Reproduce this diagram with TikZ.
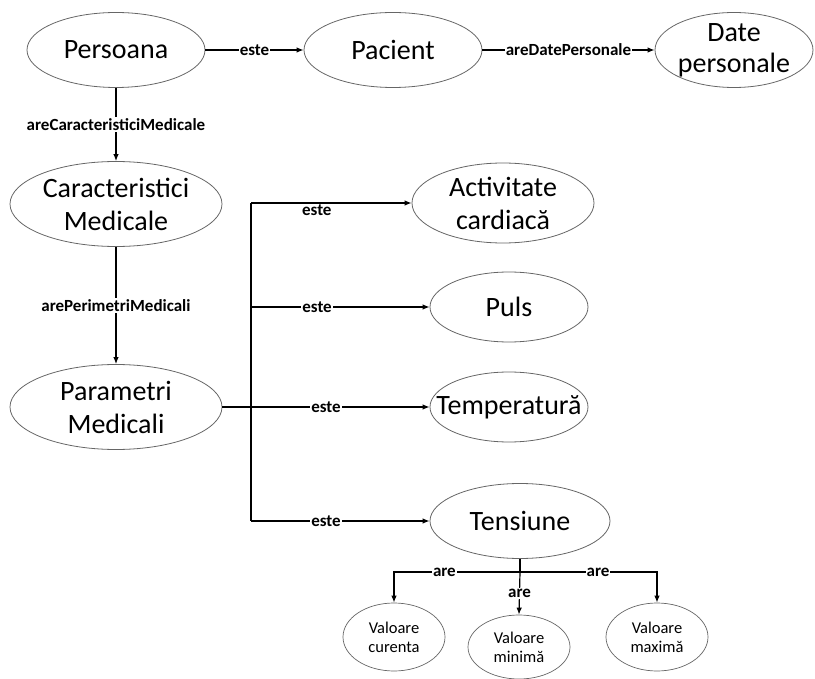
\documentclass[tikz,border=0pt]{standalone}
\usepackage{fontspec}
\setmainfont{Carlito}
\usetikzlibrary{shapes.geometric,arrows.meta}
\begin{document}
\begin{tikzpicture}[x=1pt,y=-1pt,
  ent/.style={ellipse,draw=black!60,line width=0.8pt,inner xsep=-20pt,inner ysep=-10pt,align=center,font=\fontsize{28}{33}\selectfont},
  small/.style={ellipse,draw=black!60,line width=0.7pt,inner sep=0pt,align=center,font=\fontsize{16.5}{19}\selectfont,minimum width=102pt,minimum height=68pt},
  conn/.style={line width=1.2pt},
  arr/.style={conn,-{Latex[length=7pt,width=5.5pt]}},
  lbl/.style={fill=white,inner sep=1pt,font=\bfseries\fontsize{17}{19}\selectfont}]
\useasboundingbox (0,0) rectangle (815,679);
% nodes
\node[ent,minimum width=178pt,minimum height=75pt] (pers) at (116,50) {Persoana};
\node[ent,minimum width=178pt,minimum height=75pt] (pac) at (393,50) {Pacient};
\node[ent,minimum width=158pt,minimum height=75pt,font=\fontsize{28}{31}\selectfont] (date) at (734,50) {Date\\personale};
\node[ent,minimum width=212pt,minimum height=85pt] (car) at (116,204) {Caracteristici\\Medicale};
\node[ent,minimum width=212pt,minimum height=85pt] (par) at (116,407) {Parametri\\Medicali};
\node[ent,minimum width=182pt,minimum height=80pt] (act) at (503,203) {Activitate\\cardiacă};
\node[ent,minimum width=158pt,minimum height=70pt] (puls) at (509,307) {Puls};
\node[ent,minimum width=158pt,minimum height=70pt] (temp) at (509,407) {Temperatură};
\node[ent,minimum width=180pt,minimum height=75pt] (tens) at (520,521) {Tensiune};
\node[small] (vc) at (394,637) {Valoare\\curenta};
\node[small,minimum height=64pt] (vm) at (519,647) {Valoare\\minimă};
\node[small] (vmax) at (657,637) {Valoare\\maximă};
% junctions
\coordinate (jt) at (251,203);
\coordinate (jp) at (251,307);
\coordinate (jm) at (251,407);
\coordinate (jb) at (251,521);
\coordinate (tj) at (520,572);
\coordinate (cl) at (394,572);
\coordinate (cr) at (657,572);
% connectors
\draw[arr] (pers.east) -- node[lbl]{este} (pac.west);
\draw[arr] (pac.east) -- node[lbl]{areDatePersonale} (date.west);
\draw[arr] (pers.south) -- node[lbl]{areCaracteristiciMedicale} (car.north);
\draw[arr] (car.south) -- node[lbl]{arePerimetriMedicali} (par.north);
\draw[conn] (jt) -- (jb);
\draw[line width=2pt] (par.east) -- (jm);
\draw[arr] (jt) -- node[lbl,pos=0.41,yshift=-7pt]{este} (act.west);
\draw[arr] (jp) -- node[lbl,pos=0.37]{este} (puls.west);
\draw[arr] (jm) -- node[lbl,pos=0.42]{este} (temp.west);
\draw[arr] (jb) -- node[lbl,pos=0.42]{este} (tens.west);
\draw[conn] (tens.south) -- (tj);
\draw[arr] (tj) -- node[lbl,pos=0.6]{are} (cl) -- (vc.north);
\draw[arr] (tj) -- node[lbl,pos=0.57]{are} (cr) -- (vmax.north);
\draw[arr] (tj) -- node[lbl]{are} (vm.north);
\end{tikzpicture}
\end{document}
